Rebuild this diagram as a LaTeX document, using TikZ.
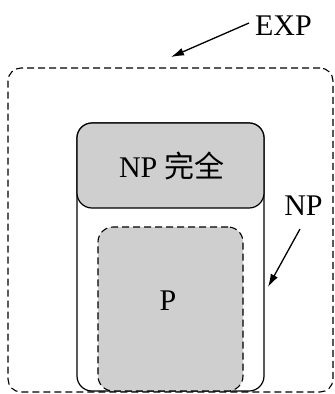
\documentclass[tikz,border=0pt]{standalone}
\usepackage{fontspec}
\setmainfont{Liberation Serif}
\newfontfamily\cjk{Noto Sans CJK SC}
\usetikzlibrary{arrows.meta}
\definecolor{boxgray}{HTML}{CFCFCF}
\tikzset{
  dashbox/.style={draw, line width=1.1pt, dash pattern=on 7pt off 4pt},
  solidbox/.style={draw, line width=1.2pt},
  lbl/.style={font=\fontsize{30}{34}\selectfont, inner sep=0pt},
  pointer/.style={line width=1.3pt, -{Latex[length=13pt,width=8pt]}},
  box/.style={rectangle, inner sep=0pt, outer sep=0pt}
}
\begin{document}
\begin{tikzpicture}[x=1pt,y=-1pt]
\useasboundingbox (0,0) rectangle (335,394);
\node[box, dashbox, rounded corners=13pt, minimum width=325pt, minimum height=324pt] (exp) at (170.5,230) {};
\node[box, solidbox, rounded corners=15pt, minimum width=187pt, minimum height=268pt] (np) at (170.5,257) {};
\node[box, solidbox, fill=boxgray, rounded corners=15pt, minimum width=187pt, minimum height=85pt] (npc) at (170.5,165.5) {};
\node[lbl] (npctext) at (172,166) {NP {\cjk 完全}};
\node[box, dashbox, fill=boxgray, rounded corners=15pt, minimum width=145pt, minimum height=164pt] (p) at (170.5,309) {};
\node[lbl] (ptext) at (168,301) {P};
\node[lbl] (explbl) at (283.5,26) {EXP};
\node[lbl] (nplbl) at (303.5,206) {NP};
\coordinate (exptip) at (171,57);
\coordinate (nptip) at (268,287);
\draw[pointer] (249,23) -- (exptip);
\draw[pointer] (300,229) -- (nptip);
\end{tikzpicture}
\end{document}
